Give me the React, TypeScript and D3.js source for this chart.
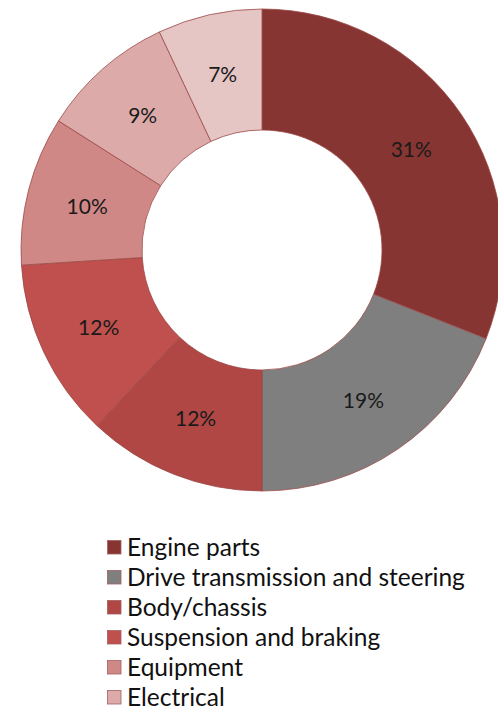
import React from "react";
import * as d3 from "d3";

const categories = [
  "Engine parts",
  "Drive transmission and steering",
  "Body/chassis",
  "Suspension and braking",
  "Equipment",
  "Electrical",
  "Other",
];
const values = [31, 19, 12, 12, 10, 9, 7];
const colors = ["#873533", "#7f7f7f", "#b04745", "#c0504d", "#d08886", "#dcaaa9", "#e6c5c5"];
const legendCount = 6;

const W = 498;
const H = 711;
const cx = 262;
const cy = 250;
const outerR = 241;
const innerR = 120;

export default function App() {
  const pie = d3.pie<number>().sort(null).value((d) => d);
  const arcs = pie(values);
  const arcGen = d3.arc<d3.PieArcDatum<number>>().innerRadius(innerR).outerRadius(outerR);
  const total = d3.sum(values);
  const legendBase = d3.scaleLinear().domain([0, 1]).range([556, 586]);

  return (
    <svg
      width={W}
      height={H}
      style={{ position: "absolute", left: 0, top: 0, background: "#fff" }}
    >
      <g transform={`translate(${cx},${cy})`}>
        {arcs.map((a, i) => (
          <path
            key={i}
            d={arcGen(a) || ""}
            fill={colors[i]}
            stroke="#9a4a48"
            strokeWidth={0.8}
          />
        ))}
        {arcs.map((a, i) => {
          const [x, y] = arcGen.centroid(a);
          return (
            <text
              key={"t" + i}
              x={x}
              y={y}
              textAnchor="middle"
              dominantBaseline="central"
              fontFamily="Lato, sans-serif"
              fontSize={21}
              fill="#1a1a1a"
            >
              {`${Math.round((values[i] / total) * 100)}%`}
            </text>
          );
        })}
      </g>
      <g>
        {categories.slice(0, legendCount).map((c, i) => {
          const y = legendBase(i);
          return (
            <g key={c}>
              <rect
                x={107.5}
                y={y - 15.5}
                width={13.5}
                height={13.5}
                fill={colors[i]}
                stroke="#a06060"
                strokeWidth={0.8}
              />
              <text
                x={127}
                y={y}
                fontFamily="Lato, sans-serif"
                fontSize={24.5}
                fill="#111"
              >
                {c}
              </text>
            </g>
          );
        })}
      </g>
    </svg>
  );
}
